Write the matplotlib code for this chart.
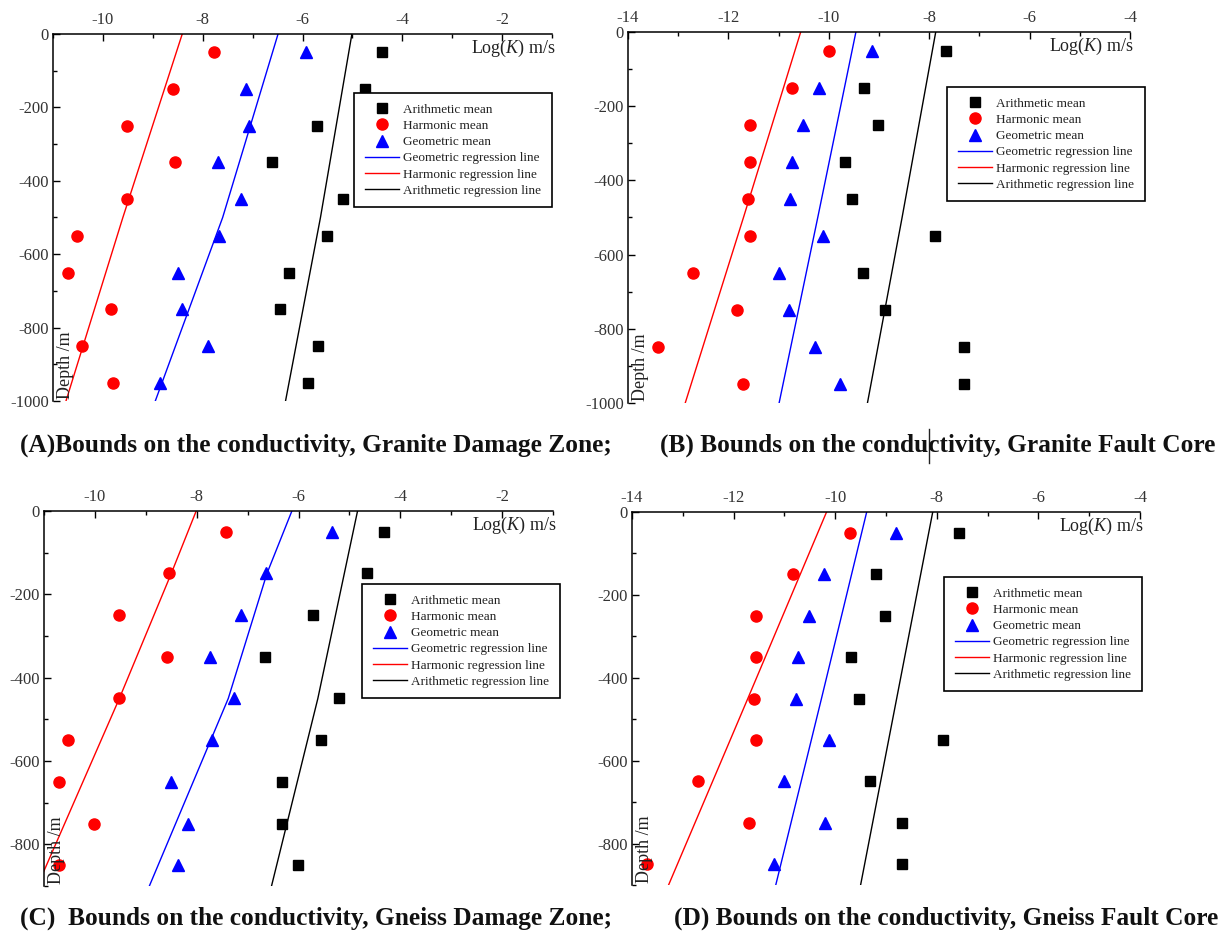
import matplotlib
matplotlib.use('Agg')
import matplotlib.pyplot as plt
from matplotlib.lines import Line2D
from matplotlib.ticker import MultipleLocator

plt.rcParams['font.family'] = 'Liberation Serif'
plt.rcParams['mathtext.fontset'] = 'custom'
plt.rcParams['mathtext.rm'] = 'Liberation Serif'
plt.rcParams['mathtext.it'] = 'Liberation Serif:italic'
plt.rcParams['axes.unicode_minus'] = False

# depth of the measurement intervals (m)
depth_granite = [-50, -150, -250, -350, -450, -550, -650, -750, -850, -950]
depth_gneiss = [-50, -150, -250, -350, -450, -550, -650, -750, -850]

# (A) Granite damage zone, Log(K)
a_arith = [-4.40, -4.75, -5.70, -6.62, -5.18, -5.51, -6.28, -6.46, -5.69, -5.89]
a_harm = [-7.77, -8.59, -9.52, -8.56, -9.52, -10.51, -10.69, -9.83, -10.42, -9.79]
a_geom = [-5.92, -7.14, -7.08, -7.70, -7.24, -7.67, -8.49, -8.42, -7.89, -8.85]
a_line_depth = [0, -500, -1000]
a_line_geom = [-6.49, -7.60, -8.95]
a_line_harm = [-8.41, -9.60, -10.74]
a_line_arith = [-5.01, -5.64, -6.34]

# (B) Granite fault core
b_arith = [-7.66, -9.29, -9.01, -9.68, -9.53, -7.88, -9.31, -8.88, -7.31, -7.31]
b_harm = [-9.99, -10.73, -11.57, -11.57, -11.61, -11.57, -12.70, -11.83, -13.40, -11.70]
b_geom = [-9.13, -10.20, -10.51, -10.74, -10.78, -10.12, -11.00, -10.80, -10.27, -9.77]
b_line_depth = [0, -500, -1000]
b_line_geom = [-9.46, -10.22, -10.99]
b_line_harm = [-10.56, -11.70, -12.86]
b_line_arith = [-7.87, -8.54, -9.23]

# (C) Gneiss damage zone
c_arith = [-4.32, -4.66, -5.72, -6.65, -5.20, -5.55, -6.33, -6.33, -6.01]
c_harm = [-7.42, -8.54, -9.53, -8.58, -9.53, -10.52, -10.70, -10.01, -10.71]
c_geom = [-5.35, -6.64, -7.12, -7.74, -7.27, -7.69, -8.51, -8.17, -8.36]
c_line_depth = [0, -150, -450, -900]
c_line_geom = [-6.13, -6.62, -7.38, -8.93]
c_line_harm = [-8.01, -8.50, -9.52, -11.13]
c_line_arith = [-4.84, -5.10, -5.62, -6.53]

# (D) Gneiss fault core
d_arith = [-7.57, -9.20, -9.02, -9.69, -9.54, -7.88, -9.31, -8.69, -8.69]
d_harm = [-9.71, -10.83, -11.56, -11.56, -11.60, -11.56, -12.70, -11.69, -13.70]
d_geom = [-8.80, -10.23, -10.51, -10.74, -10.78, -10.13, -11.00, -10.20, -11.20]
d_line_depth = [0, -450, -900]
d_line_geom = [-9.38, -10.27, -11.17]
d_line_harm = [-10.17, -11.72, -13.28]
d_line_arith = [-8.08, -8.79, -9.50]

captions_top = ['(A)Bounds on the conductivity, Granite Damage Zone;',
                '(B) Bounds on the conductivity, Granite Fault Core']
captions_bottom = ['(C)  Bounds on the conductivity, Gneiss Damage Zone;',
                   '(D) Bounds on the conductivity, Gneiss Fault Core']

W, H = 1226, 946
fig = plt.figure(figsize=(W / 100, H / 100), dpi=100)


def px_axes(x0, x1, y0, y1):
    return fig.add_axes([x0 / W, 1 - y1 / H, (x1 - x0) / W, (y1 - y0) / H])


def draw_panel(ax, depth, arith, harm, geom, ldepth, lgeom, lharm, larith,
               xlim, ylim, xmajor, legend_anchor):
    ax.plot(arith, depth, 's', color='black', ms=7.5, ls='none', label='Arithmetic mean')
    ax.plot(harm, depth, 'o', color='#ff0000', ms=8, ls='none', label='Harmonic mean')
    ax.plot(geom, depth, '^', color='#0000ff', ms=8.5, ls='none', label='Geometric mean')
    ax.plot(lgeom, ldepth, color='#0000ff', lw=1.0, label='Geometric regression line')
    ax.plot(lharm, ldepth, color='#ff0000', lw=1.0, label='Harmonic regression line')
    ax.plot(larith, ldepth, color='black', lw=1.0, label='Arithmetic regression line')

    ax.set_xlim(*xlim)
    ax.set_ylim(*ylim)
    ax.xaxis.set_major_locator(MultipleLocator(xmajor))
    ax.xaxis.set_minor_locator(MultipleLocator(1))
    ax.yaxis.set_major_locator(MultipleLocator(200))
    ax.yaxis.set_minor_locator(MultipleLocator(100))
    ax.xaxis.tick_top()
    ax.tick_params(axis='both', which='both', direction='in', colors='black',
                   labelcolor='#333333', labelsize=12)
    ax.tick_params(axis='x', which='major', length=5, width=1, pad=4)
    ax.tick_params(axis='x', which='minor', length=3, width=1)
    ax.tick_params(axis='y', which='major', length=5, width=1, pad=3)
    ax.tick_params(axis='y', which='minor', length=3, width=1)
    ax.tick_params(axis='x', labelbottom=False, bottom=False, which='both')
    for side in ['right', 'bottom']:
        ax.spines[side].set_visible(False)
    for side in ['top', 'left']:
        ax.spines[side].set_linewidth(1.1)

    ax.text(1.008, 0.99, r'Log($\mathit{K}$) m/s', transform=ax.transAxes,
            ha='right', va='top', fontsize=13, color='#222222')
    ax.text(0.008, 0.005, 'Depth /m', transform=ax.transAxes, rotation=90,
            ha='left', va='bottom', fontsize=13, color='#222222')

    leg = ax.legend(loc='upper right', bbox_to_anchor=legend_anchor,
                    fontsize=9.5, frameon=True, fancybox=False, framealpha=1,
                    edgecolor='black', borderpad=0.8, labelspacing=0.3,
                    handlelength=2.6, handletextpad=0.35, borderaxespad=0)
    leg.get_frame().set_linewidth(1.2)
    for t in leg.get_texts():
        t.set_color('#222222')


ax_a = px_axes(53, 552, 34, 401)
draw_panel(ax_a, depth_granite, a_arith, a_harm, a_geom, a_line_depth,
           a_line_geom, a_line_harm, a_line_arith, (-11, -1), (-1000, 0), 2,
           (1.0, 1 - (93 - 34) / (401 - 34)))

ax_b = px_axes(628, 1130, 32, 403)
draw_panel(ax_b, depth_granite, b_arith, b_harm, b_geom, b_line_depth,
           b_line_geom, b_line_harm, b_line_arith, (-14, -4), (-1000, 0), 2,
           (1 + 15 / 502, 1 - (87 - 32) / (403 - 32)))

ax_c = px_axes(44, 553, 511, 886)
draw_panel(ax_c, depth_gneiss, c_arith, c_harm, c_geom, c_line_depth,
           c_line_geom, c_line_harm, c_line_arith, (-11, -1), (-900, 0), 2,
           (1 + 7 / 509, 1 - (584 - 511) / (886 - 511)))

ax_d = px_axes(632, 1140, 512, 885)
draw_panel(ax_d, depth_gneiss, d_arith, d_harm, d_geom, d_line_depth,
           d_line_geom, d_line_harm, d_line_arith, (-14, -4), (-900, 0), 2,
           (1 + 2 / 508, 1 - (577 - 512) / (885 - 512)))

cap_kw = dict(fontsize=18.3, fontweight='bold', color='#111111', va='center')
fig.text(20 / W, 1 - 445 / H, captions_top[0], ha='left', **cap_kw)
fig.text(1215 / W, 1 - 445 / H, captions_top[1], ha='right', **cap_kw)
fig.text(20 / W, 1 - 918 / H, captions_bottom[0], ha='left', **cap_kw)
fig.text(1218 / W, 1 - 918 / H, captions_bottom[1], ha='right', **cap_kw)

# stray cursor mark in the original caption
fig.add_artist(Line2D([929 / W, 929 / W], [1 - 463 / H, 1 - 429 / H],
                      color='#222222', lw=1.0))

fig.savefig('out.png', dpi=100)
